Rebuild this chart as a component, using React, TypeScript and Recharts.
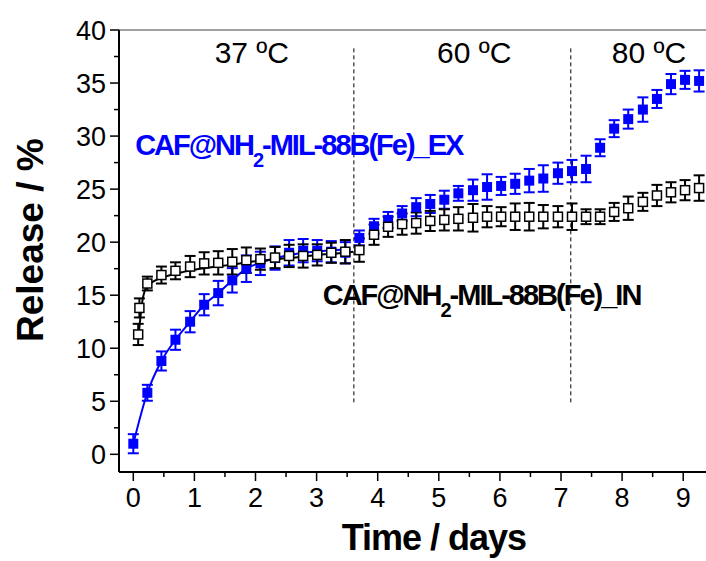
import * as React from "react";
import {
  ComposedChart,
  Line,
  Scatter,
  ErrorBar,
  XAxis,
  YAxis,
  ReferenceLine,
  ReferenceDot,
} from "recharts";

const FONT = "'Liberation Sans', Arial, Helvetica, sans-serif";
const BLUE = "#0000ff";

// sampling times (days)
const exTimes = [
  0, 0.23, 0.46, 0.69, 0.93, 1.16, 1.39, 1.62, 1.85, 2.08, 2.32, 2.55, 2.78,
  3.01, 3.24, 3.47, 3.7, 3.94, 4.17, 4.4, 4.63, 4.86, 5.09, 5.32, 5.56, 5.79,
  6.02, 6.25, 6.48, 6.71, 6.95, 7.18, 7.41, 7.64, 7.87, 8.1, 8.34, 8.57, 8.8,
  9.03, 9.26,
];
const exRelease = [
  1.0, 5.8, 8.8, 10.8, 12.5, 14.1, 15.2, 16.4, 17.5, 18.0, 18.5, 19.0, 19.2,
  19.2, 19.1, 19.0, 20.4, 21.5, 22.1, 22.7, 23.3, 23.6, 24.0, 24.6, 24.9, 25.2,
  25.3, 25.5, 25.8, 26.0, 26.5, 26.7, 26.9, 28.9, 30.7, 31.6, 32.5, 33.5, 34.9,
  35.3, 35.2,
];
const exErr = [
  0.9, 0.75, 0.9, 0.95, 1.0, 1.0, 1.15, 1.15, 1.25, 1.1, 1.1, 1.2, 1.1, 1.0,
  1.0, 1.0, 0.7, 0.7, 0.75, 0.7, 0.85, 0.85, 0.85, 0.7, 1.0, 1.2, 0.85, 0.95,
  1.1, 1.25, 1.0, 1.05, 1.25, 0.8, 0.8, 0.9, 1.15, 0.85, 0.95, 0.85, 1.0,
];

const inTimes = [
  0.08, 0.1, 0.23, 0.46, 0.69, 0.93, 1.16, 1.39, 1.62, 1.85, 2.08, 2.32, 2.55,
  2.78, 3.01, 3.24, 3.47, 3.7, 3.94, 4.17, 4.4, 4.63, 4.86, 5.09, 5.32, 5.56,
  5.79, 6.02, 6.25, 6.48, 6.71, 6.95, 7.18, 7.41, 7.64, 7.87, 8.1, 8.34, 8.57,
  8.8, 9.03, 9.26,
];
const inRelease = [
  11.3, 13.8, 16.1, 16.9, 17.3, 17.7, 18.0, 18.05, 18.15, 18.3, 18.4, 18.55,
  18.7, 18.7, 18.8, 19.0, 19.1, 19.25, 20.7, 21.45, 21.7, 21.8, 22.0, 22.1,
  22.2, 22.3, 22.4, 22.4, 22.4, 22.4, 22.4, 22.4, 22.4, 22.4, 22.4, 22.85, 23.2,
  23.8, 24.4, 24.7, 24.9, 25.1,
];
const inErr = [
  1.0, 0.9, 0.65, 0.8, 0.8, 1.0, 1.05, 1.1, 1.2, 1.2, 1.0, 1.0, 1.05, 1.1, 1.0,
  0.95, 1.1, 1.1, 0.95, 0.95, 1.0, 1.0, 0.95, 1.0, 1.1, 1.3, 1.0, 0.9, 1.25,
  1.3, 1.1, 1.0, 1.25, 0.7, 0.7, 0.85, 1.1, 0.85, 1.0, 0.95, 0.95, 1.2,
];

// fitted curves (37 ºC stage)
const exFitT = [0, 0.23, 0.46, 0.69, 0.93, 1.16, 1.39, 1.62, 1.85, 2.1, 2.4, 2.8, 3.2, 3.5];
const exFitY = [1.0, 5.8, 8.8, 10.8, 12.5, 14.1, 15.2, 16.4, 17.5, 18.1, 18.6, 19.0, 19.2, 19.3];
const inFitT = [0.09, 0.15, 0.22, 0.33, 0.55, 0.82, 1.09, 1.36, 1.64, 1.91, 2.18, 2.45, 2.73, 3.0, 3.27, 3.6];
const inFitY = [11.4, 14.5, 15.8, 16.3, 16.8, 17.2, 17.5, 17.7, 17.9, 18.15, 18.3, 18.45, 18.6, 18.8, 18.9, 19.1];

// temperature stage boundaries
const stageBreaks = [3.61, 7.16];
const stageLabels = [
  { x: 1.94, text: "37 ºC" },
  { x: 5.58, text: "60 ºC" },
  { x: 8.44, text: "80 ºC" },
];

const xTicks = Array.from({ length: 19 }, (_, i) => i * 0.5);
const yTicks = Array.from({ length: 17 }, (_, i) => i * 2.5);

const zip = (xs: number[], ys: number[], es?: number[]) =>
  xs.map((x, i) => ({ x, y: ys[i], err: es ? es[i] : 0 }));

const exData = zip(exTimes, exRelease, exErr);
const inData = zip(inTimes, inRelease, inErr);
const exFit = zip(exFitT, exFitY);
const inFit = zip(inFitT, inFitY);

function XTick({ x, y, payload }: any) {
  const v = payload.value as number;
  const major = Number.isInteger(v);
  return (
    <g>
      <line x1={x} x2={x} y1={y} y2={y + (major ? 9 : 5)} stroke="#000" strokeWidth={1.5} />
      {major && (
        <text x={x} y={y + 35} textAnchor="middle" fontSize={27} fontFamily={FONT} fill="#000">
          {v}
        </text>
      )}
    </g>
  );
}

function YTick({ x, y, payload }: any) {
  const v = payload.value as number;
  const major = v % 5 === 0;
  return (
    <g>
      <line x1={x} x2={x - (major ? 9 : 5)} y1={y} y2={y} stroke="#000" strokeWidth={1.5} />
      {major && (
        <text x={x - 13} y={y + 9.5} textAnchor="end" fontSize={27} fontFamily={FONT} fill="#000">
          {v}
        </text>
      )}
    </g>
  );
}

const blueSquare = (p: any) => (
  <rect x={p.cx - 5} y={p.cy - 5} width={10} height={10} fill={BLUE} />
);
const openSquare = (p: any) => (
  <rect x={p.cx - 4.5} y={p.cy - 4.5} width={9} height={9} fill="#fff" stroke="#000" strokeWidth={1.5} />
);

function SeriesName({ cx, cy, name, color }: any) {
  return (
    <text x={cx} y={cy} fontSize={29} fontWeight="bold" fontFamily={FONT} fill={color} letterSpacing={-2}>
      CAF@NH
      <tspan dy={12} fontSize={20}>2</tspan>
      <tspan dy={-12}>{name}</tspan>
    </text>
  );
}

export default function App() {
  return (
    <div style={{ position: "absolute", left: 0, top: 0, width: 706, height: 561, background: "#fff" }}>
      <ComposedChart width={706} height={561} margin={{ top: 30, right: 0, bottom: 0, left: 0 }}>
        <XAxis
          type="number"
          dataKey="x"
          domain={[-0.234, 9.373]}
          allowDataOverflow
          ticks={xTicks}
          interval={0}
          height={89}
          tickSize={0}
          tickMargin={0}
          tick={<XTick />}
          axisLine={{ stroke: "#000", strokeWidth: 2 }}
        />
        <YAxis
          type="number"
          dataKey="y"
          domain={[-1.667, 40]}
          allowDataOverflow
          ticks={yTicks}
          interval={0}
          width={119}
          tickSize={0}
          tickMargin={0}
          tick={<YTick />}
          axisLine={{ stroke: "#000", strokeWidth: 2 }}
        />

        <ReferenceLine y={40} stroke="#444" strokeWidth={1} />
        {stageBreaks.map((b) => (
          <ReferenceLine
            key={b}
            segment={[{ x: b, y: 4.9 }, { x: b, y: 38.4 }]}
            stroke="#000"
            strokeWidth={1}
            strokeDasharray="4 3"
          />
        ))}

        <Line data={exFit} dataKey="y" type="monotone" stroke={BLUE} strokeWidth={2} dot={false} isAnimationActive={false} />
        <Line data={inFit} dataKey="y" type="monotone" stroke="#000" strokeWidth={2} dot={false} isAnimationActive={false} />

        <Scatter data={exData} dataKey="y" shape={blueSquare} isAnimationActive={false}>
          <ErrorBar dataKey="err" direction="y" width={5.5} stroke={BLUE} strokeWidth={2} isAnimationActive={false} />
        </Scatter>
        <Scatter data={inData} dataKey="y" shape={openSquare} isAnimationActive={false}>
          <ErrorBar dataKey="err" direction="y" width={5.5} stroke="#000" strokeWidth={2} isAnimationActive={false} />
        </Scatter>

        {stageLabels.map((s) => (
          <ReferenceDot
            key={s.text}
            x={s.x}
            y={36.9}
            r={0}
            ifOverflow="visible"
            shape={(p: any) => (
              <text x={p.cx} y={p.cy} textAnchor="middle" fontSize={30} fontFamily={FONT} fill="#000">
                {s.text}
              </text>
            )}
          />
        ))}

        <ReferenceDot
          x={0.03}
          y={28.2}
          r={0}
          ifOverflow="visible"
          shape={(p: any) => <SeriesName cx={p.cx} cy={p.cy} name="-MIL-88B(Fe)_EX" color={BLUE} />}
        />
        <ReferenceDot
          x={3.1}
          y={14.07}
          r={0}
          ifOverflow="visible"
          shape={(p: any) => <SeriesName cx={p.cx} cy={p.cy} name="-MIL-88B(Fe)_IN" color="#000" />}
        />

        {/* axis titles */}
        <ReferenceDot
          x={4.92}
          y={-9.0}
          r={0}
          ifOverflow="visible"
          shape={(p: any) => (
            <text x={p.cx} y={p.cy} textAnchor="middle" fontSize={36} fontWeight="bold" fontFamily={FONT} fill="#000" letterSpacing={-1}>
              Time / days
            </text>
          )}
        />
        <ReferenceDot
          x={-1.478}
          y={20.19}
          r={0}
          ifOverflow="visible"
          shape={(p: any) => (
            <text
              x={p.cx}
              y={p.cy}
              transform={`rotate(-90 ${p.cx} ${p.cy})`}
              textAnchor="middle"
              fontSize={37}
              fontWeight="bold"
              fontFamily={FONT}
              fill="#000"
            >
              Release / %
            </text>
          )}
        />
      </ComposedChart>
    </div>
  );
}
